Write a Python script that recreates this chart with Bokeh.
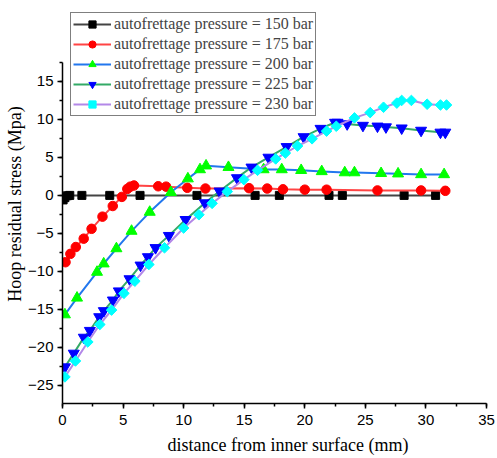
import math
from bokeh.plotting import figure
from bokeh.models import Range1d, SingleIntervalTicker, Legend, LegendItem, Title
from bokeh.embed import file_html
from bokeh.resources import INLINE

# ---- data ----
x150 = [0.05, 0.2, 0.4, 0.6, 1.6, 3.9, 6.4, 11.1, 15.9, 17.9, 22.0, 23.1, 28.2, 30.8]
y150 = [-0.6, -0.3, -0.05, 0.0, 0.0, 0.0, 0.0, 0.0, 0.0, 0.0, 0.0, 0.0, 0.0, 0.0]

x175 = [0.25, 0.65, 1.1, 1.75, 2.4, 3.3, 4.15, 4.9, 5.35, 5.6, 5.9, 7.9, 8.55, 10.3, 11.8,
        15.4, 16.9, 18.2, 20.0, 21.8, 26.0, 29.6, 31.6]
y175 = [-8.8, -7.7, -6.8, -5.7, -4.4, -2.8, -1.4, -0.2, 0.85, 1.15, 1.3, 1.2, 1.15, 1.0, 0.9,
        0.95, 0.9, 0.8, 0.75, 0.75, 0.65, 0.65, 0.6]

x200 = [0.2, 1.2, 2.85, 3.4, 4.45, 5.7, 7.2, 8.95, 10.35, 11.35, 11.85, 13.7, 16.6, 18.1,
        19.7, 21.4, 23.3, 24.1, 26.3, 27.7, 29.6, 31.5]
y200 = [-15.7, -13.5, -10.1, -9.0, -7.0, -4.7, -2.2, 0.4, 2.2, 3.4, 3.9, 3.7, 3.4, 3.4,
        3.3, 3.15, 3.0, 3.0, 2.9, 2.85, 2.75, 2.75]

x225 = [0.2, 0.93, 1.76, 2.26, 3.03, 3.41, 4.16, 4.65, 5.53, 6.44, 7.05, 7.68, 8.78, 10.16,
        11.75, 12.96, 14.4, 15.6, 17.0, 18.5, 19.9, 21.3, 22.5, 22.7, 23.5, 24.8, 26.0, 26.7,
        28.0, 29.6, 31.2, 31.6]
y225 = [-22.6, -20.8, -18.7, -17.8, -16.0, -15.2, -13.8, -12.6, -11.0, -9.2, -8.1, -6.9, -5.3,
        -3.2, -1.0, 0.55, 2.3, 3.7, 5.0, 6.4, 7.7, 8.8, 9.6, 9.6, 9.4, 9.2, 9.1, 9.0, 8.85,
        8.55, 8.3, 8.3]

x230 = [0.2, 1.07, 2.09, 3.08, 4.05, 5.07, 5.97, 7.13, 8.42, 10.0, 11.26, 12.35, 13.6, 14.97,
        16.1, 17.6, 18.4, 19.4, 20.6, 21.8, 22.6, 24.1, 25.4, 26.5, 27.6, 28.0, 28.8, 30.1,
        31.2, 31.7]
y230 = [-23.9, -21.8, -19.3, -17.0, -15.1, -12.9, -11.3, -9.1, -6.9, -4.3, -2.55, -1.05, 0.5,
        2.07, 3.3, 4.8, 5.57, 6.5, 7.45, 8.46, 9.1, 10.2, 10.9, 11.6, 12.15, 12.5, 12.5, 12.0,
        11.9, 11.9]

labels = ["autofrettage pressure = 150 bar", "autofrettage pressure = 175 bar",
          "autofrettage pressure = 200 bar", "autofrettage pressure = 225 bar",
          "autofrettage pressure = 230 bar"]

x_label = "distance from inner surface (mm)"
y_label = "Hoop residual stress (Mpa)"
x_ticks_interval = 5
y_ticks_interval = 5
y_axis_bounds = (-27.4, 17.5)

# ---- styles ----
series = [
    (x150, y150, "#444444", "square", "#000000", 8, 0),
    (x175, y175, "#ff4444", "circle", "#ff0000", 9.5, 0),
    (x200, y200, "#2277ee", "triangle", "#00ff00", 11, 0),
    (x225, y225, "#33aa66", "inverted_triangle", "#0000ff", 11, 0),
    (x230, y230, "#b388e8", "square", "#00ffff", 7.5, math.pi / 4),
]

p = figure(width=497, height=458, output_backend="svg", toolbar_location=None,
           x_range=Range1d(0, 35), y_range=Range1d(-27.4, 25.13),
           min_border_left=62, min_border_right=11, min_border_top=4, min_border_bottom=55)

p.outline_line_color = None
p.grid.visible = False
p.background_fill_color = "white"
p.border_fill_color = "white"

for ax, iv in ((p.xaxis[0], x_ticks_interval), (p.yaxis[0], y_ticks_interval)):
    ax.ticker = SingleIntervalTicker(interval=iv, num_minor_ticks=2)
    ax.axis_line_width = 1.5
    ax.axis_line_color = "black"
    ax.major_tick_line_color = "black"
    ax.minor_tick_line_color = "black"
    ax.major_tick_line_width = 1.5
    ax.minor_tick_line_width = 1.5
    ax.major_tick_out = 5
    ax.major_tick_in = 0
    ax.minor_tick_out = 3
    ax.minor_tick_in = 0
    ax.major_label_text_font = "Liberation Sans"
    ax.major_label_text_font_size = "15px"
    ax.major_label_text_color = "black"
p.xaxis[0].major_label_standoff = 6
p.yaxis[0].major_label_standoff = 4
p.yaxis[0].bounds = y_axis_bounds

items = []
for i, (xs, ys, lc, mk, mc, ms, ang) in enumerate(series):
    r1 = p.line(xs, ys, line_color=lc, line_width=2)
    r2 = p.scatter(xs, ys, marker=mk, size=ms, angle=ang, fill_color=mc, line_color=mc)
    items.append(LegendItem(label=labels[i], renderers=[r1, r2]))

legend = Legend(items=items, location="top_left", padding=2, margin=8, spacing=2,
                glyph_width=38, glyph_height=18, label_height=18, label_standoff=3,
                label_text_font="Liberation Serif", label_text_font_size="16px",
                border_line_color="black", border_line_width=1,
                background_fill_color="white", background_fill_alpha=1.0)
p.add_layout(legend, "center")

# thin spacer between the tick labels and the x-axis title
p.add_layout(Title(text=" ", text_font_size="2px", standoff=1), "below")
p.add_layout(Title(text=x_label, align="left", offset=105, standoff=0, vertical_align="bottom",
                   text_font="Liberation Serif", text_font_size="18px",
                   text_font_style="normal", text_color="black"), "below")
p.add_layout(Title(text=y_label, align="center", standoff=2,
                   text_font="Liberation Serif", text_font_size="18px",
                   text_font_style="normal", text_color="black"), "left")

open("out.html", "w").write(file_html(p, INLINE))
